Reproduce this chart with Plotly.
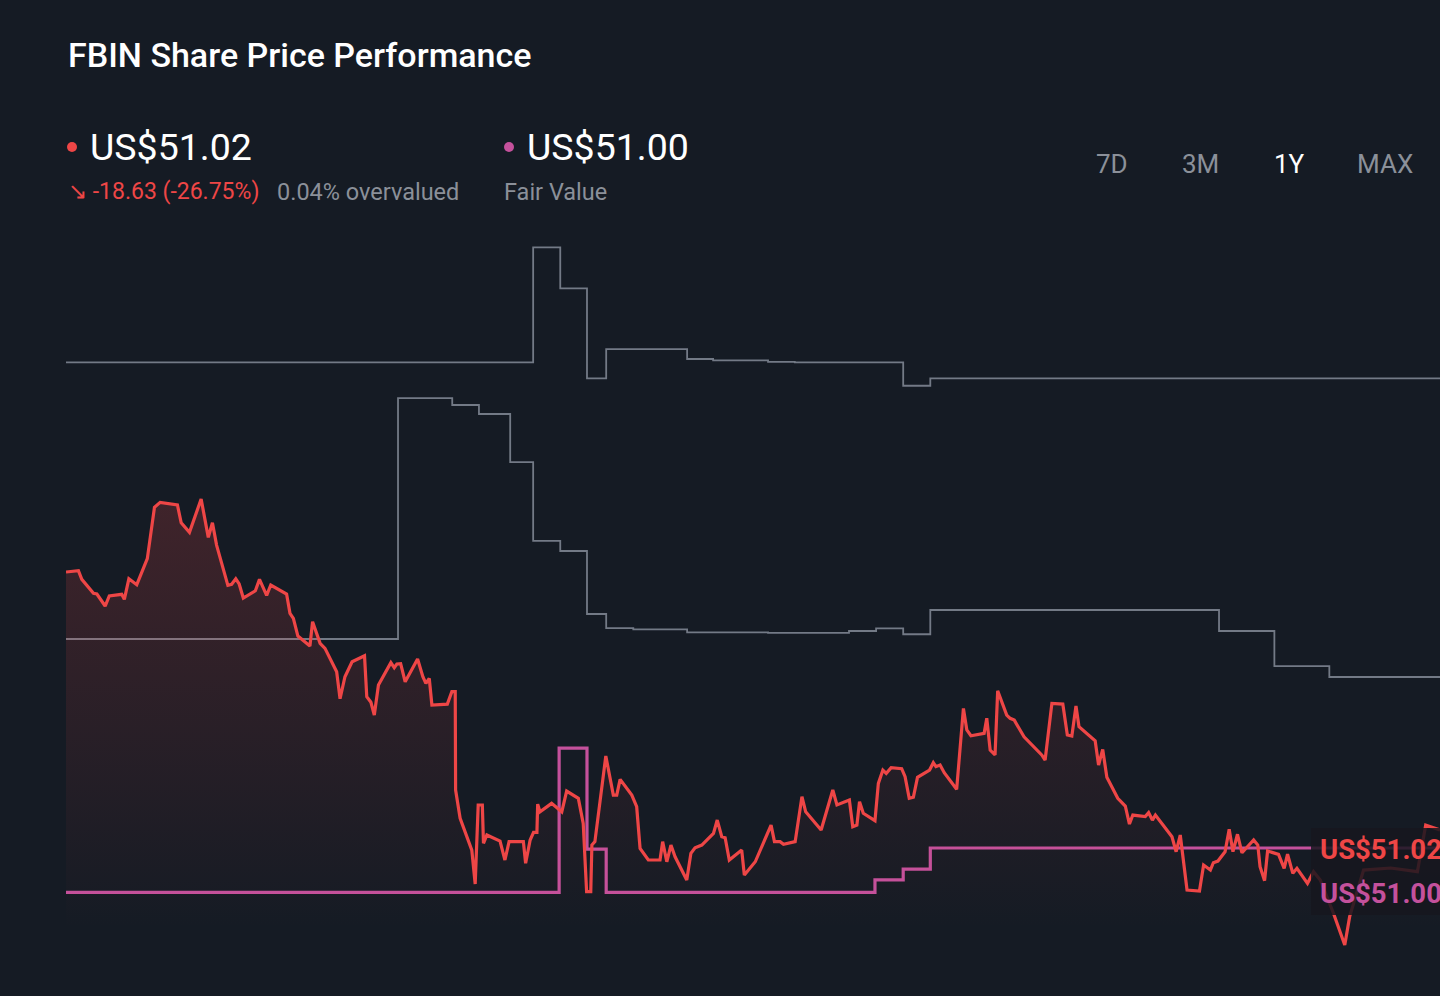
import plotly.graph_objects as go

# 1Y window, x = days since start, y = share price in US$
price_days = [
    0, 1.1, 3.3, 4.2, 7.3, 8.2, 10.4, 11.5, 14.8, 15.5,
    16.7, 18.8, 21.6, 23.5, 25.0, 29.6, 30.6, 32.8, 35.9, 37.8,
    38.9, 40.0, 43.0, 44.0, 45.1, 46.0, 47.1, 50.3, 51.4, 53.3,
    54.4, 58.6, 59.5, 60.4, 61.6, 64.8, 65.5, 67.5, 68.8, 71.9,
    72.8, 74.1, 76.0, 79.3, 79.9, 81.0, 81.9, 83.0, 86.3, 87.2,
    87.9, 88.9, 90.1, 93.4, 94.8, 95.6, 96.5, 97.2, 101.3, 102.5,
    103.4, 103.5, 104.7, 107.8, 108.7, 109.5, 110.6, 110.9, 111.8, 115.3,
    116.6, 117.7, 121.5, 122.1, 123.3, 124.2, 125.1, 125.3, 125.9, 129.0,
    131.7, 133.0, 136.1, 137.4, 138.3, 139.4, 139.7, 140.5, 143.4, 145.4,
    146.3, 147.2, 150.3, 151.6, 152.5, 154.7, 157.8, 158.5, 159.6, 160.7,
    161.8, 164.9, 166.0, 167.1, 168.9, 172.0, 173.0, 174.2, 175.1, 176.2,
    179.5, 180.2, 183.1, 187.3, 188.2, 189.7, 190.6, 193.7, 195.5, 196.5,
    200.6, 203.7, 204.8, 208.1, 209.0, 210.1, 210.8, 211.8, 214.9, 215.8,
    217.0, 217.9, 219.2, 222.0, 222.9, 224.0, 225.1, 226.2, 229.4, 230.4,
    231.1, 232.2, 233.3, 236.6, 238.4, 239.3, 240.4, 243.9, 244.6, 245.5,
    246.8, 247.5, 249.9, 250.8, 251.9, 254.5, 259.2, 260.1, 261.9, 264.8,
    266.0, 267.2, 268.3, 269.1, 273.4, 274.3, 275.4, 276.5, 279.4, 281.4,
    282.5, 283.4, 286.7, 287.6, 288.6, 289.4, 293.8, 294.9, 296.0, 297.8,
    301.1, 302.2, 304.0, 304.8, 306.0, 307.9, 309.0, 310.0, 311.2, 312.4,
    315.5, 316.6, 317.2, 318.4, 319.2, 322.1, 323.6, 324.5, 325.9, 327.0,
    329.8, 331.4, 333.2, 336.7, 339.7, 341.0, 344.7, 351.9, 359.0, 361.2, 365.0,
]
price_values = [
    69.66, 69.68, 69.75, 69.16, 68.22, 68.17, 67.36, 68.04, 68.15, 67.81,
    69.20, 68.80, 70.56, 74.03, 74.37, 74.19, 72.99, 72.34, 74.59, 72.00,
    72.99, 71.48, 68.76, 68.83, 69.20, 68.85, 67.90, 68.39, 69.16, 68.08,
    68.78, 68.17, 66.87, 66.53, 65.33, 64.66, 66.30, 64.84, 64.50, 62.92,
    61.09, 62.58, 63.59, 64.00, 61.23, 60.85, 59.99, 62.02, 63.53, 63.19,
    63.44, 63.46, 62.24, 63.78, 62.58, 62.13, 62.47, 60.67, 60.73, 61.57,
    61.57, 54.92, 53.01, 50.86, 48.57, 53.91, 53.91, 51.32, 51.88, 51.47,
    50.19, 51.43, 51.43, 49.97, 51.54, 52.06, 52.06, 53.97, 53.45, 54.02,
    53.45, 54.85, 54.36, 52.67, 48.05, 48.05, 51.20, 51.43, 57.22, 54.58,
    54.58, 55.64, 54.58, 53.79, 50.98, 50.19, 50.19, 51.43, 50.07, 51.20,
    50.41, 48.84, 50.64, 51.02, 51.20, 51.99, 52.89, 51.76, 51.70, 50.19,
    50.86, 49.17, 50.07, 52.55, 51.43, 51.43, 51.25, 51.43, 54.47, 53.45,
    52.22, 54.92, 53.91, 54.24, 52.44, 52.55, 54.13, 53.35, 52.85, 55.37,
    56.27, 56.05, 56.43, 56.36, 55.82, 54.36, 54.43, 55.78, 56.27, 56.77,
    56.50, 56.61, 56.09, 54.97, 60.44, 58.98, 58.59, 58.75, 59.77, 57.62,
    57.29, 61.63, 59.99, 59.77, 59.65, 58.52, 57.29, 56.95, 60.78, 60.73,
    58.64, 58.57, 60.60, 59.20, 58.25, 56.61, 57.67, 55.78, 54.36, 53.84,
    52.62, 53.23, 53.12, 53.39, 52.89, 53.23, 51.76, 50.75, 51.88, 48.16,
    48.09, 49.85, 49.51, 50.01, 50.12, 50.75, 52.26, 50.75, 51.93, 50.68,
    51.54, 51.20, 49.74, 48.79, 50.80, 50.57, 49.63, 50.59, 49.29, 49.63,
    48.61, 49.40, 48.84, 46.59, 44.44, 46.36, 49.51, 49.65, 49.40, 52.55, 52.22,
]

# fair value estimate (step line)
fair_days = [0, 131.0, 138.4, 143.5, 214.9, 222.4, 229.6, 365]
fair_values = [48.0, 57.76, 50.93, 48.0, 48.84, 49.58, 51.00, 51.00]

# analyst target range (upper / lower step lines)
upper_days = [0, 124.1, 131.3, 138.4, 143.5, 165.0, 171.9, 186.5, 193.6, 222.4, 229.6, 365]
upper_values = [83.83, 91.61, 88.84, 82.75, 84.73, 84.06, 83.97, 83.87, 83.83, 82.25, 82.75, 82.75]
lower_days = [0, 88.2, 102.6, 109.7, 118.0, 124.1, 131.3, 138.4, 143.5, 150.7,
              165.0, 186.5, 208.0, 215.2, 222.4, 229.6, 306.3, 321.0, 335.6, 365]
lower_values = [65.13, 81.42, 80.95, 80.34, 77.09, 71.77, 71.08, 66.82, 65.87, 65.78,
                65.58, 65.55, 65.67, 65.85, 65.45, 67.09, 65.67, 63.30, 62.56, 62.56]

title = "FBIN Share Price Performance"
last_price = "US$51.02"
fair_value = "US$51.00"
change_text = "↘ -18.63 (-26.75%)"
valuation_text = "0.04% overvalued"
fair_label = "Fair Value"
range_buttons = ["7D", "3M", "1Y", "MAX"]
active_button = "1Y"

W, H = 1440, 996
BG = "#151b24"
RED = "#ee4646"
PINK = "#c4519c"
GREY_LINE = "#737a86"
GREY_TEXT = "#8b9099"
FONT = "Roboto"


def px(x):
    return x / W


def py(y):
    return 1 - y / H


fig = go.Figure()

for d, v in [(upper_days, upper_values), (lower_days, lower_values)]:
    fig.add_trace(go.Scatter(x=d, y=v, mode="lines", line=dict(color=GREY_LINE, width=1.8, shape="hv"),
                             hoverinfo="skip", showlegend=False))

fig.add_trace(go.Scatter(x=fair_days, y=fair_values, mode="lines",
                         line=dict(color=PINK, width=3.2, shape="hv"),
                         hoverinfo="skip", showlegend=False))

fig.add_trace(go.Scatter(
    x=price_days, y=price_values, mode="lines",
    line=dict(color=RED, width=3.2),
    fill="tozeroy",
    fillgradient=dict(type="vertical", start=45.5, stop=75,
                      colorscale=[[0, "rgba(238,70,70,0)"], [1, "rgba(238,70,70,0.2)"]]),
    hoverinfo="skip", showlegend=False))

annotations = [
    dict(x=px(66), y=py(55), text=title, font=dict(size=34, color="#ffffff", weight=500)),
    dict(x=px(88), y=py(147), text=last_price, font=dict(size=37.5, color="#ffffff")),
    dict(x=px(525), y=py(147), text=fair_value, font=dict(size=37.5, color="#ffffff")),
    dict(x=px(66), y=py(192), text=change_text, font=dict(size=23, color=RED)),
    dict(x=px(275), y=py(192), text=valuation_text, font=dict(size=23.5, color=GREY_TEXT)),
    dict(x=px(502), y=py(192), text=fair_label, font=dict(size=23.5, color=GREY_TEXT)),
]
for label, cx in zip(range_buttons, [1112, 1200, 1289, 1385]):
    annotations.append(dict(x=px(cx), y=py(164), text=label, xanchor="center",
                            font=dict(size=26, color="#ffffff" if label == active_button else GREY_TEXT)))
annotations += [
    dict(x=px(1318), y=py(849), text="<b>" + last_price + "</b>", font=dict(size=27.5, color=RED)),
    dict(x=px(1318), y=py(893), text="<b>" + fair_value + "</b>", font=dict(size=27.5, color=PINK)),
]
for a in annotations:
    a.setdefault("xanchor", "left")
    a.update(xref="paper", yref="paper", yanchor="middle", showarrow=False)

shapes = [
    dict(type="circle", xref="paper", yref="paper", x0=px(67), x1=px(77), y0=py(152), y1=py(142),
         fillcolor=RED, line=dict(width=0)),
    dict(type="circle", xref="paper", yref="paper", x0=px(504), x1=px(514), y0=py(152), y1=py(142),
         fillcolor=PINK, line=dict(width=0)),
    dict(type="rect", xref="paper", yref="paper", x0=px(1311), x1=px(1440), y0=py(915), y1=py(828),
         fillcolor="rgba(22,22,30,0.85)", line=dict(width=0), layer="above"),
]

fig.update_layout(
    width=W, height=H,
    paper_bgcolor=BG, plot_bgcolor=BG,
    margin=dict(l=0, r=0, t=0, b=0),
    font=dict(family=FONT),
    xaxis=dict(domain=[px(66), 1], range=[0, 365], visible=False, fixedrange=True),
    yaxis=dict(domain=[py(960), py(230)], range=[43.43, 92.78], visible=False, fixedrange=True),
    annotations=annotations,
    shapes=shapes,
    showlegend=False,
)

# drop the default page margin so the figure sits flush with the window
fig.write_html("out.html", config={"displayModeBar": False},
               post_script="document.body.style.margin='0';document.body.style.background='%s';" % BG)
